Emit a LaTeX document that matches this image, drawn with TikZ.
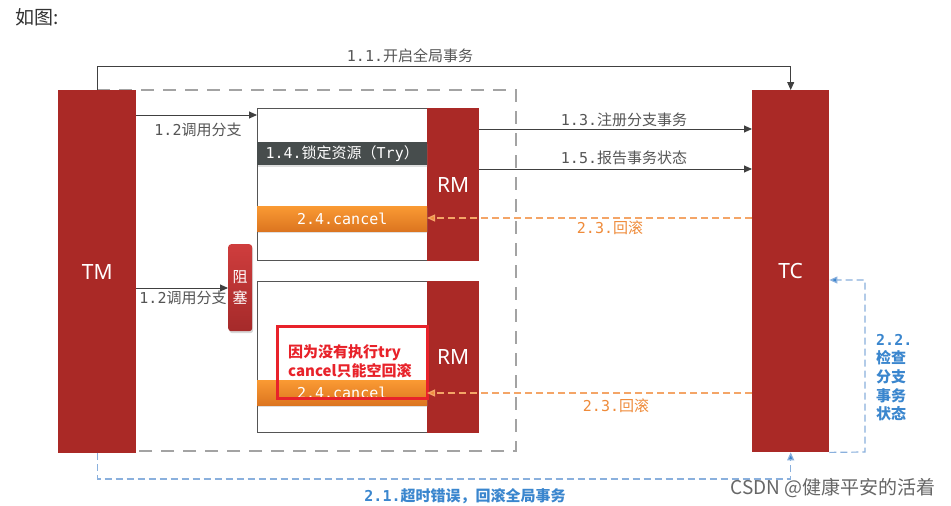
\documentclass[tikz,border=0pt]{standalone}
\usepackage{fontspec}
\setmainfont{Noto Sans CJK SC}
\newfontfamily\monof{DejaVu Sans Mono}
\newfontfamily\latf{Noto Sans}
\usetikzlibrary{arrows.meta,shadows}
\definecolor{boxred}{HTML}{AA2926}
\definecolor{blkTop}{HTML}{CF3D3D}
\definecolor{blkBot}{HTML}{A52A2A}
\definecolor{orTop}{HTML}{FA9A33}
\definecolor{orBot}{HTML}{DC7520}
\definecolor{darkbar}{HTML}{474D4D}
\definecolor{txtgray}{HTML}{555555}
\definecolor{dashgray}{HTML}{A3A3A3}
\definecolor{ortxt}{HTML}{EF8B3A}
\definecolor{orline}{HTML}{F4A567}
\definecolor{bluetxt}{HTML}{3A86CE}
\definecolor{blueline}{HTML}{8AB0DD}
\definecolor{annored}{HTML}{E8222A}
\newcommand\mm[1]{{\monof #1}}
\tikzset{
  actor/.style={fill=boxred, draw=none, inner sep=0pt, text=white, font=\latf\fontsize{21}{24}\selectfont},
  branchbox/.style={draw=txtgray, line width=1.3pt, fill=white, inner sep=0pt},
  trybar/.style={fill=darkbar, inner sep=0pt, text=white, font=\fontsize{15}{18}\selectfont,
     drop shadow={opacity=0.25, shadow xshift=0.5pt, shadow yshift=-1.5pt}},
  cancelbar/.style={top color=orTop, bottom color=orBot, draw=none, inner sep=0pt, text=white,
     font=\monof\fontsize{15}{18}\selectfont,
     drop shadow={opacity=0.25, shadow xshift=0.5pt, shadow yshift=-1.5pt}},
  blocker/.style={top color=blkTop, bottom color=blkBot, rounded corners=3pt, inner sep=0pt,
     text=white, font=\fontsize{15}{21}\selectfont, align=center,
     drop shadow={opacity=0.3, shadow xshift=1pt, shadow yshift=-2pt}},
  conn/.style={draw=black!75, line width=0.9pt, -{Triangle[length=8pt,width=7pt]}},
  ordash/.style={draw=orline, line width=1.2pt, dash pattern=on 7pt off 4pt,
     -{Triangle[length=8pt,width=7pt,fill=ortxt]}},
  bluedash/.style={draw=blueline, line width=1.2pt, dash pattern=on 7pt off 4pt,
     -{Triangle[length=8pt,width=7pt,fill=bluetxt]}},
  glabel/.style={text=txtgray, font=\fontsize{15}{18}\selectfont, inner sep=0pt},
  olabel/.style={text=ortxt, font=\fontsize{15}{18}\selectfont, inner sep=0pt},
  blabel/.style={text=bluetxt, font=\fontsize{15}{18.6}\selectfont\bfseries, inner sep=0pt},
}
\begin{document}
\begin{tikzpicture}[x=1pt,y=-1pt]
\useasboundingbox (0,0) rectangle (951,506);
\fill[white] (0,0) rectangle (951,506);

% heading
\node[anchor=west, inner sep=0pt, text=black!80, font=\fontsize{19}{22}\selectfont] (head) at (15,17) {如图:};

% big dashed frame
\draw[draw=dashgray, line width=2.8pt, dash pattern=on 13pt off 9pt] (97,90) -- (516,90) -- (516,451) -- (97,451);

% actors
\node[actor, minimum width=78pt, minimum height=363pt, anchor=north west] (tm) at (58,90) {TM};
\node[actor, minimum width=77pt, minimum height=362pt, anchor=north west] (tc) at (752,90) {TC};

% upper branch
\node[branchbox, minimum width=180pt, minimum height=152pt, anchor=north west] (b1) at (257,108) {};
\node[actor, minimum width=52pt, minimum height=153pt, anchor=north west] (rm1) at (427,108) {RM};
\node[trybar, minimum width=170pt, minimum height=23pt, anchor=north west] (try1) at (257,142) {\mm{1.4.}锁定资源（\mm{Try}）};
\node[cancelbar, minimum width=170pt, minimum height=25pt, anchor=north west] (can1) at (257,206) {2.4.cancel};

% lower branch
\node[branchbox, minimum width=180pt, minimum height=151pt, anchor=north west] (b2) at (257,281) {};
\node[actor, minimum width=52pt, minimum height=152pt, anchor=north west] (rm2) at (427,281) {RM};
\node[cancelbar, minimum width=170pt, minimum height=25pt, anchor=north west] (can2) at (257,380) {2.4.cancel};

% blocker
\node[blocker, minimum width=24pt, minimum height=87pt, anchor=north west] (blk) at (228,244) {阻\\塞};

% annotation
\node[draw=annored, line width=2.6pt, minimum width=150pt, minimum height=72pt, anchor=north west, inner sep=0pt] (anno) at (276,325) {};
\node[anchor=west, align=left, inner sep=0pt, text=annored, font=\fontsize{15}{19}\selectfont\bfseries] (annotxt) at (288,361) {因为没有执行try\\cancel只能空回滚};

% 1.1
\draw[conn] (tm.north) -- (tm.north |- 0,66) -| (tc.north);
\node[glabel] (l11) at (410,56) {\mm{1.1.}开启全局事务};

% 1.2 upper/lower
\draw[conn] (tm.east |- 0,115) -- (b1.west |- 0,115);
\node[glabel] (l12a) at (198,130) {\mm{1.2}调用分支};
\draw[conn] (tm.east |- 0,288) -- (blk.west |- 0,288);
\node[glabel] (l12b) at (183,298) {\mm{1.2}调用分支};

% 1.3 / 1.5
\draw[conn] (rm1.east |- 0,129) -- (tc.west |- 0,129);
\node[glabel] (l13) at (624,120) {\mm{1.3.}注册分支事务};
\draw[conn] (rm1.east |- 0,169) -- (tc.west |- 0,169);
\node[glabel] (l15) at (624,158) {\mm{1.5.}报告事务状态};

% 2.3 rollbacks
\draw[ordash] (tc.west |- 0,218) -- (rm1.west |- 0,218);
\node[olabel] (l23a) at (610,228) {\mm{2.3.}回滚};
\draw[ordash] (tc.west |- 0,393) -- (rm2.west |- 0,393);
\node[olabel] (l23b) at (616,406) {\mm{2.3.}回滚};

% 2.1
\draw[bluedash] (tm.south) -- (tm.south |- 0,479) -| (tc.south);
\node[blabel] (l21) at (465,496) {\mm{2.1.}超时错误，回滚全局事务};

% 2.2
\coordinate (c22) at (865,452);
\draw[bluedash] (tc.south east) -- (c22) |- (tc.east |- 0,280);
\node[blabel, anchor=north west, align=left] (l22) at (876,334) {\mm{2.2.}\\检查\\分支\\事务\\状态};

% watermark
\node[anchor=east, inner sep=0pt, text=black!60, font=\fontsize{19}{22}\selectfont] (wm) at (936,488) {CSDN @健康平安的活着};
\end{tikzpicture}
\end{document}
